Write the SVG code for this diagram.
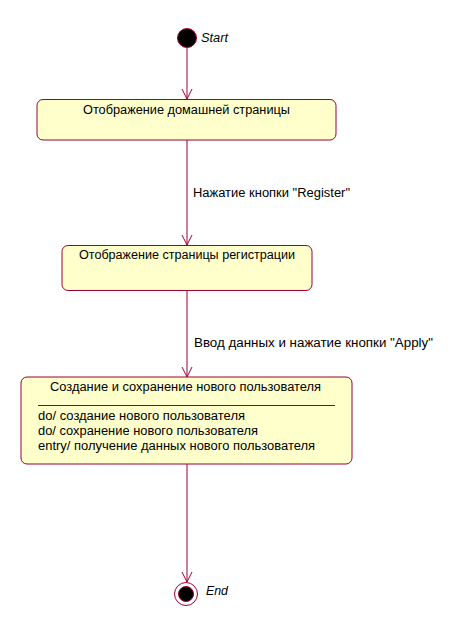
<svg xmlns="http://www.w3.org/2000/svg" width="454" height="638" viewBox="0 0 454 638">
  <style>
    text { font-family: "Liberation Sans", Arial, sans-serif; font-size: 12px; fill: #000; }
    .state { fill: #FFFFCC; stroke: #990033; stroke-width: 1; }
    .edge { fill: none; stroke: #990033; stroke-width: 1; }
    .lbl { font-style: italic; }
  </style>
  <defs>
    <marker id="open" markerWidth="12" markerHeight="12" refX="10" refY="5" orient="auto" markerUnits="userSpaceOnUse" viewBox="0 0 12 10">
      <path d="M0,0 L10,5 L0,10" fill="none" stroke="#990033" stroke-width="1"/>
    </marker>
  </defs>
  <rect width="454" height="638" fill="#fff"/>

  <g id="connectors">
    <line class="edge" x1="187" y1="48" x2="187" y2="99" marker-end="url(#open)"/>
    <line class="edge" x1="187" y1="140" x2="187" y2="245" marker-end="url(#open)"/>
    <line class="edge" x1="187" y1="290" x2="187" y2="377" marker-end="url(#open)"/>
    <line class="edge" x1="187" y1="464" x2="187" y2="582" marker-end="url(#open)"/>
    <text x="193" y="197" textLength="157" lengthAdjust="spacingAndGlyphs">Нажатие кнопки "Register"</text>
    <text x="194" y="347" textLength="239" lengthAdjust="spacingAndGlyphs">Ввод данных и нажатие кнопки "Apply"</text>
  </g>

  <g id="start">
    <circle cx="187" cy="38" r="9.5" fill="#000" stroke="#990033" stroke-width="1"/>
    <text class="lbl" x="201" y="42" textLength="27" lengthAdjust="spacingAndGlyphs">Start</text>
  </g>

  <g id="home">
    <rect class="state" x="37" y="99.5" width="299" height="40.5" rx="6"/>
    <text x="83" y="114" textLength="207" lengthAdjust="spacingAndGlyphs">Отображение домашней страницы</text>
  </g>

  <g id="register">
    <rect class="state" x="62" y="245.5" width="250" height="45" rx="6"/>
    <text x="79" y="259" textLength="216" lengthAdjust="spacingAndGlyphs">Отображение страницы регистрации</text>
  </g>

  <g id="create">
    <rect class="state" x="21" y="377" width="331" height="87" rx="6"/>
    <text x="50" y="391" textLength="271" lengthAdjust="spacingAndGlyphs">Создание и сохранение нового пользователя</text>
    <line x1="38" y1="405.5" x2="335" y2="405.5" stroke="#990033" stroke-width="1"/>
    <text x="38" y="420" textLength="207" lengthAdjust="spacingAndGlyphs">do/ создание нового пользователя</text>
    <text x="38" y="435" textLength="220" lengthAdjust="spacingAndGlyphs">do/ сохранение нового пользователя</text>
    <text x="38" y="450" textLength="277" lengthAdjust="spacingAndGlyphs">entry/ получение данных нового пользователя</text>
  </g>

  <g id="end">
    <circle cx="186" cy="594" r="11.5" fill="#fff" stroke="#990033" stroke-width="1"/>
    <circle cx="186" cy="594" r="7.5" fill="#000" stroke="#990033" stroke-width="1"/>
    <text class="lbl" x="206" y="595" textLength="22" lengthAdjust="spacingAndGlyphs">End</text>
  </g>
</svg>
